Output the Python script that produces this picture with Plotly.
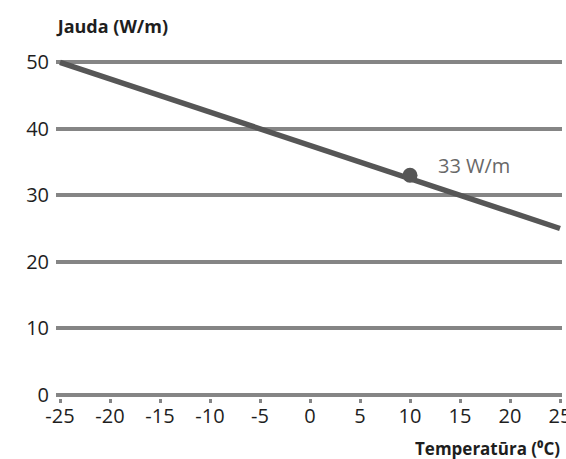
import plotly.graph_objects as go

temps = [-25, 25]
power = [50, 25]
point_x = [10]
point_y = [33]
point_label = ["33 W/m"]
x_ticks = [-25, -20, -15, -10, -5, 0, 5, 10, 15, 20, 25]
x_tick_text = ["-25", "-20", "-15", "-10", "-5", "0", "5", "10", "15", "20", "25"]
y_ticks = [0, 10, 20, 30, 40, 50]

FONT = "Open Sans"
LINE_C = "#565656"
GRID_C = "#858585"
TXT_C = "#1e1e1e"

fig = go.Figure()
fig.add_trace(go.Scatter(x=temps, y=power, mode="lines",
                         line=dict(color=LINE_C, width=5.5), cliponaxis=False,
                         hoverinfo="skip"))
fig.add_trace(go.Scatter(x=point_x, y=point_y, mode="markers",
                         marker=dict(color=LINE_C, size=15), cliponaxis=False))
fig.add_annotation(x=point_x[0], y=point_y[0], text=point_label[0], showarrow=False,
                   xanchor="left", yanchor="middle", xshift=26, yshift=10,
                   font=dict(family=FONT, size=20, color="#686868"))

fig.update_layout(
    width=566, height=459,
    margin=dict(l=55.5, r=4, t=58.7, b=60.7, autoexpand=False),
    paper_bgcolor="white", plot_bgcolor="white",
    showlegend=False,
    font=dict(family=FONT, size=20, color=TXT_C),
    title=dict(text="<b>Jauda (W/m)</b>", xref="container", yref="container",
               x=168 / 566, y=1 - 27 / 459, xanchor="right", yanchor="middle",
               font=dict(family=FONT, size=18, color=TXT_C)),
    xaxis=dict(range=[-25.4, 25.2], tickvals=x_ticks, ticktext=x_tick_text,
               showgrid=False, zeroline=False, automargin=False,
               showline=False, ticks="outside", ticklen=4, tickwidth=3, tickcolor=GRID_C,
               ticklabelstandoff=-4, ticklabeloverflow="allow",
               tickfont=dict(family=FONT, size=20, color=TXT_C), fixedrange=True),
    yaxis=dict(range=[-0.5, 50.5], tickvals=y_ticks, showgrid=True, gridcolor=GRID_C, gridwidth=4,
               zeroline=False, showline=False, ticks="", ticklabelstandoff=6, automargin=False,
               tickfont=dict(family=FONT, size=20, color=TXT_C), fixedrange=True),
)
fig.add_annotation(xref="paper", yref="paper", x=1, y=0, yshift=-50, xshift=0,
                   text="<b>Temperatūra (⁰C)</b>", showarrow=False,
                   xanchor="right", yanchor="middle",
                   font=dict(family=FONT, size=17, color=TXT_C))

fig.write_html("out.html", config={"displayModeBar": False},
               post_script="document.body.style.margin='0';document.body.style.padding='0';document.body.style.overflow='hidden';")
